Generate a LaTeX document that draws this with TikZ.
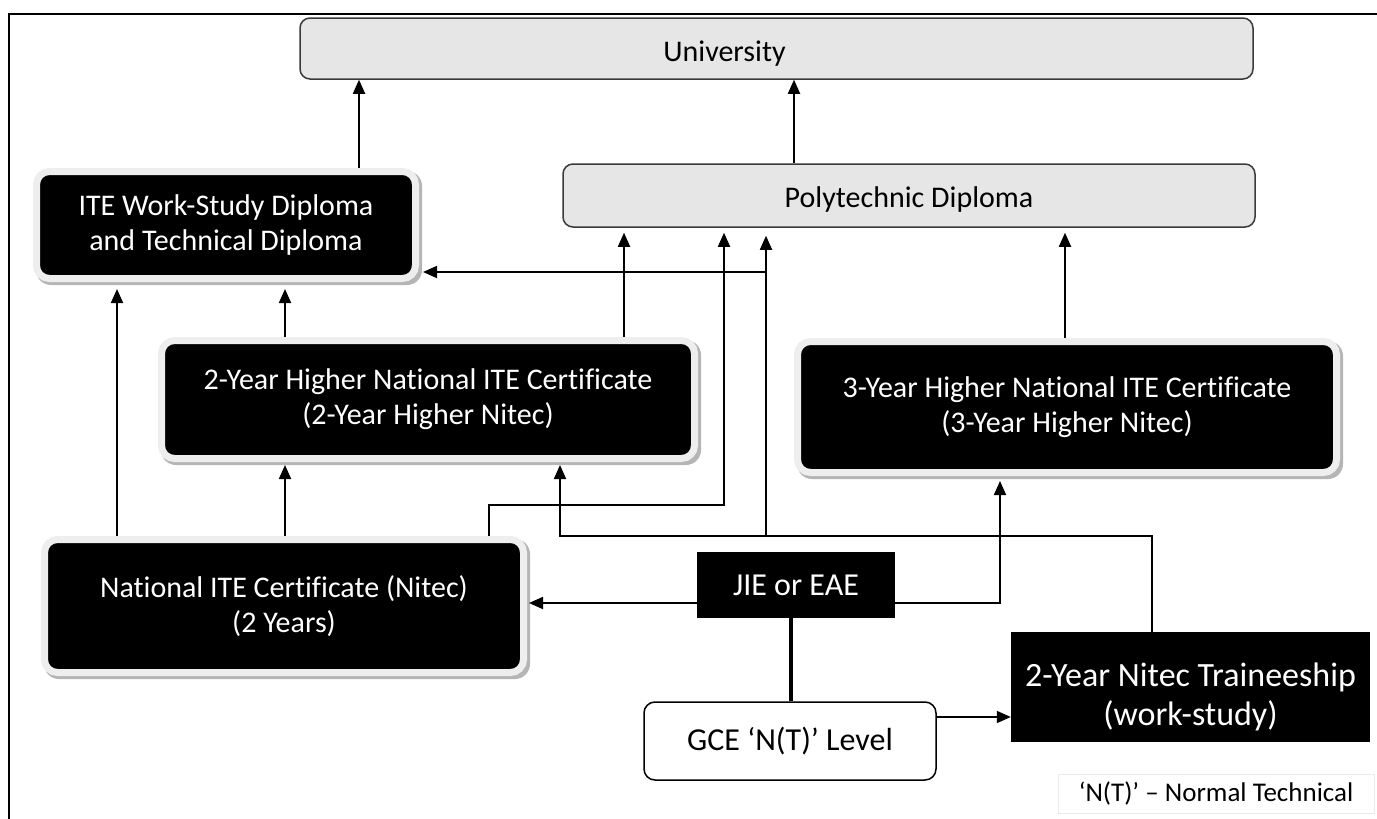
\documentclass[tikz,border=0pt]{standalone}
\usepackage{fontspec}
\setmainfont{Carlito}[Ligatures=CommonOff]
\usetikzlibrary{arrows.meta,backgrounds}
\definecolor{boxgray}{HTML}{E6E6E6}
\definecolor{ringgray}{HTML}{EEEEEE}
\definecolor{shadowgray}{HTML}{B5B5B5}
\definecolor{edgegray}{HTML}{3A3A3A}
\definecolor{legendedge}{HTML}{EBEBEB}
\begin{document}
\begin{tikzpicture}[x=1pt,y=-1pt,
  txt/.style={font=\fontsize{30}{35}\selectfont, align=center},
  greybox/.style={draw=edgegray, fill=boxgray, line width=1.5pt, rounded corners=10pt, inner sep=0pt},
  blackbox/.style={txt, text=white, fill=black, draw=ringgray, line width=7pt, rounded corners=13pt, inner sep=0pt},
  squarebox/.style={font=\fontsize{32}{38}\selectfont, align=center, text=white, fill=black, inner sep=0pt},
  gcebox/.style={font=\fontsize{32}{38}\selectfont, draw=black, fill=white, line width=1.5pt, rounded corners=11pt, inner sep=0pt},
  legendbox/.style={font=\fontsize{27}{32}\selectfont, draw=legendedge, line width=1pt, inner sep=0pt},
  conn/.style={line width=1.8pt},
  arr/.style={conn, -{Triangle[length=14pt,width=12pt]}},
  shadowbox/.style={fill=shadowgray, rounded corners=15pt}
]
\useasboundingbox (0,0) rectangle (1377,819);
% frame
\draw[line width=2pt] (9,819) -- (9,14) -- (1377,14);

% nodes
\node[greybox, minimum width=953pt, minimum height=61pt,
      label={[txt, xshift=-52pt, yshift=-5pt]center:University}] (univ) at (776.5,48.5) {};
\node[greybox, minimum width=692pt, minimum height=63pt,
      label={[txt, yshift=-4pt]center:Polytechnic Diploma}] (poly) at (909,195.5) {};
\node[blackbox, minimum width=379pt, minimum height=107pt] (ws) at (226,225) {ITE Work-Study Diploma\\and Technical Diploma};
\node[blackbox, minimum width=533pt, minimum height=118pt] (hn2) at (428,399.5) {2-Year Higher National ITE Certificate\\(2-Year Higher Nitec)};
\node[blackbox, minimum width=539pt, minimum height=131pt] (hn3) at (1067,407) {3-Year Higher National ITE Certificate\\(3-Year Higher Nitec)};
\node[blackbox, minimum width=479pt, minimum height=133pt] (nitec) at (284,606) {National ITE Certificate (Nitec)\\(2 Years)};
\node[squarebox, minimum width=198pt, minimum height=66pt] (jie) at (796,585) {JIE or EAE};
\node[gcebox, minimum width=292pt, minimum height=78pt] (gce) at (790,741) {GCE ‘N(T)’ Level};
\node[squarebox, minimum width=359pt, minimum height=110pt,
      label={[font=\fontsize{34}{39}\selectfont, align=center, text=white, yshift=-10pt]center:2-Year Nitec Traineeship\\(work-study)}] (train) at (1190.5,687) {};
\node[legendbox, minimum width=316pt, minimum height=39pt] (legend) at (1216,793.5) {‘N(T)’ – Normal Technical};

% shadows
\begin{scope}[on background layer]
\foreach \n in {ws,hn2,hn3,nitec}{
  \fill[shadowbox] ([shift={(3,3)}]\n.south west) rectangle ([shift={(3,3)}]\n.north east);
}
\end{scope}

% junction coordinates
\coordinate (j1) at (766,536);
\coordinate (j2) at (766,272);

% connectors
\draw[arr] (ws.north -| 359,0) -- (univ.south -| 359,0);
\draw[arr] (poly.north -| 794,0) -- (univ.south -| 794,0);
\draw[arr, shorten >=5pt] (hn2.north -| 624,0) -- (poly.south -| 624,0);
\draw[arr, shorten >=5pt] (nitec.north -| 489,0) |- (724,505) -- (poly.south -| 724,0);
\draw[conn] (train.north -| 1152,0) |- (j1);
\draw[arr, shorten >=3pt] (j1) -| (hn2.south -| 560,0);
\draw[arr, shorten >=8pt] (j1) -- (poly.south -| j1);
\draw[arr, shorten >=4pt] (j2) -- (ws.east |- j2);
\draw[arr, shorten >=5pt] (hn3.north -| 1065,0) -- (poly.south -| 1065,0);
\draw[arr, shorten >=7pt] (nitec.north -| 117,0) -- (ws.south -| 117,0);
\draw[arr, shorten >=7pt] (hn2.north -| 285,0) -- (ws.south -| 285,0);
\draw[arr, shorten >=3pt] (nitec.north -| 285,0) -- (hn2.south -| 285,0);
\draw[arr, shorten >=2pt] (jie.west |- 0,603) -- (nitec.east |- 0,603);
\draw[arr, shorten >=5pt] (jie.east |- 0,603) -| (hn3.south -| 1000,0);
\draw[line width=3.5pt] (jie.south -| 791,0) -- (gce.north -| 791,0);
\draw[arr] (gce.east |- 0,717) -- (train.west |- 0,717);
\end{tikzpicture}
\end{document}
